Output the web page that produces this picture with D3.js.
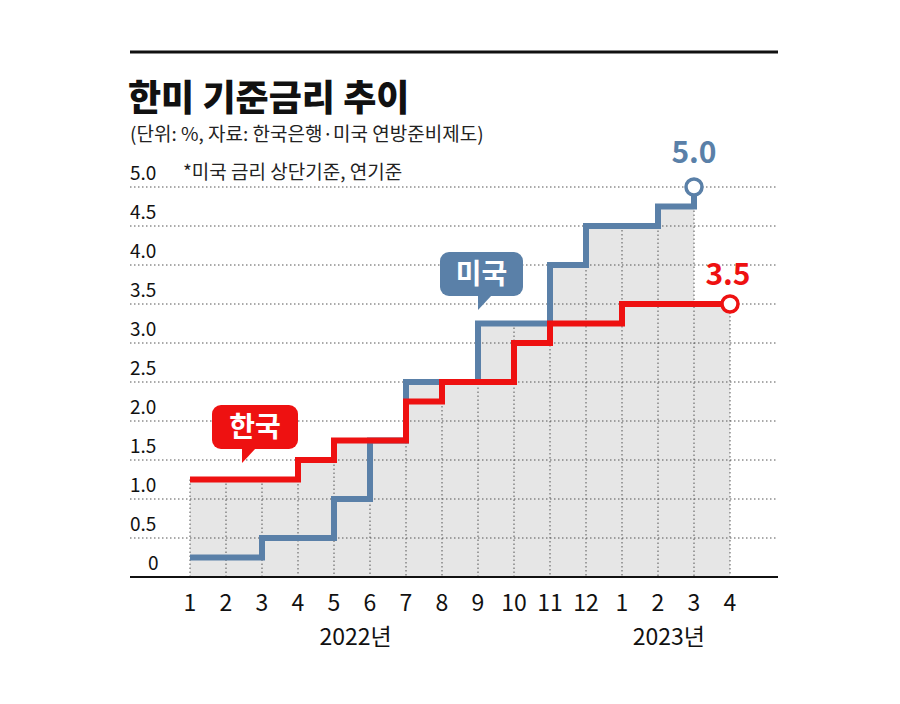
<!DOCTYPE html><html><head><meta charset="utf-8"><script src="https://cdn.jsdelivr.net/npm/d3@7"></script>
<style>body{margin:0;background:#fff}</style></head><body><svg id="c" width="900" height="704"></svg>
<script>
const months=["1","2","3","4","5","6","7","8","9","10","11","12","1","2","3","4"];
const usRate=[0.25,0.25,0.5,0.5,1.0,1.75,2.5,2.5,3.25,3.25,4.0,4.5,4.5,4.75,5.0];
const krRate=[1.25,1.25,1.25,1.5,1.75,1.75,2.25,2.5,2.5,3.0,3.25,3.25,3.5,3.5,3.5,3.5];
const yTicks=[0,0.5,1.0,1.5,2.0,2.5,3.0,3.5,4.0,4.5,5.0];
const years=[{t:"2022년",i:4.6},{t:"2023년",i:13.3}];
const blue="#5a80a8",red="#ee1111",F="'Noto Sans CJK KR','Noto Sans',sans-serif";
const svg=d3.select("#c");
const x=d3.scaleLinear().domain([0,15]).range([190,730]);
const y=d3.scaleLinear().domain([0,5]).range([577,187]);
svg.append("line").attr("x1",130).attr("x2",778).attr("y1",52).attr("y2",52).attr("stroke","#111").attr("stroke-width",3);
svg.append("text").attr("x",128).attr("y",111).text("한미 기준금리 추이").attr("font-family",F).attr("font-weight",900).attr("font-size",36).attr("fill","#111");
svg.append("text").attr("x",130).attr("y",141).text("(단위: %, 자료: 한국은행·미국 연방준비제도)").attr("font-family",F).attr("font-size",19).attr("fill","#222");
svg.append("text").attr("x",183).attr("y",179).text("*미국 금리 상단기준, 연기준").attr("font-family",F).attr("font-size",19).attr("fill","#222");
// fill under max (US endpoint applies only at its last point)
const mx=krRate.map((v,i)=>Math.max(v,i<usRate.length-1?usRate[i]:0));
svg.append("path").attr("fill","#e6e6e6").attr("d",d3.area().curve(d3.curveStepAfter).x((d,i)=>x(i)).y0(y(0)).y1(d=>y(d))(mx));
yTicks.forEach(t=>{ if(t>0) svg.append("line").attr("x1",130).attr("x2",778).attr("y1",y(t)).attr("y2",y(t)).attr("stroke","#555").attr("stroke-dasharray","1.5,2.5");
 svg.append("text").attr("x",t==0?148:130).attr("y",y(t)-7).text(t==0?"0":t.toFixed(1)).attr("font-family",F).attr("font-size",19).attr("fill","#111");});
months.forEach((m,i)=>{const top=Math.max(mx[i],i>0?mx[i-1]:0);
 svg.append("line").attr("x1",x(i)).attr("x2",x(i)).attr("y1",y(top)).attr("y2",577).attr("stroke","#555").attr("stroke-dasharray","1.5,2.5");
 svg.append("text").attr("x",x(i)).attr("y",611).attr("text-anchor","middle").text(m).attr("font-family",F).attr("font-size",23).attr("fill","#111");});
years.forEach(d=>svg.append("text").attr("x",x(d.i)).attr("y",645).attr("text-anchor","middle").text(d.t).attr("font-family",F).attr("font-size",23).attr("fill","#111"));
svg.append("line").attr("x1",130).attr("x2",778).attr("y1",577).attr("y2",577).attr("stroke","#111").attr("stroke-width",2);
const ln=d3.line().curve(d3.curveStepAfter).x((d,i)=>x(i)).y(d=>y(d));
svg.append("path").attr("d",ln(usRate)).attr("fill","none").attr("stroke",blue).attr("stroke-width",6);
svg.append("path").attr("d",ln(krRate)).attr("fill","none").attr("stroke",red).attr("stroke-width",6);
svg.append("circle").attr("cx",x(14)).attr("cy",y(5)).attr("r",8).attr("fill","#fff").attr("stroke",blue).attr("stroke-width",3.5);
svg.append("circle").attr("cx",x(15)).attr("cy",y(3.5)).attr("r",8).attr("fill","#fff").attr("stroke",red).attr("stroke-width",3.5);
svg.append("text").attr("x",x(14)).attr("y",163).attr("text-anchor","middle").text("5.0").attr("font-family",F).attr("font-weight",700).attr("font-size",30).attr("fill",blue);
svg.append("text").attr("x",x(15)-2).attr("y",285).attr("text-anchor","middle").text("3.5").attr("font-family",F).attr("font-weight",700).attr("font-size",30).attr("fill",red);
function callout(x0,y0,w,h,px,c,t){svg.append("rect").attr("x",x0).attr("y",y0).attr("width",w).attr("height",h).attr("rx",9).attr("fill",c);
 svg.append("path").attr("d",`M${px},${y0+h-1}L${px+14},${y0+h-1}L${px},${y0+h+14}Z`).attr("fill",c);
 svg.append("text").attr("x",x0+w/2).attr("y",y0+h/2+10).attr("text-anchor","middle").text(t).attr("font-family",F).attr("font-weight",700).attr("font-size",28).attr("fill","#fff");}
callout(212,405,86,44,242,red,"한국");
callout(440,252,83,44,478,blue,"미국");
</script></body></html>
